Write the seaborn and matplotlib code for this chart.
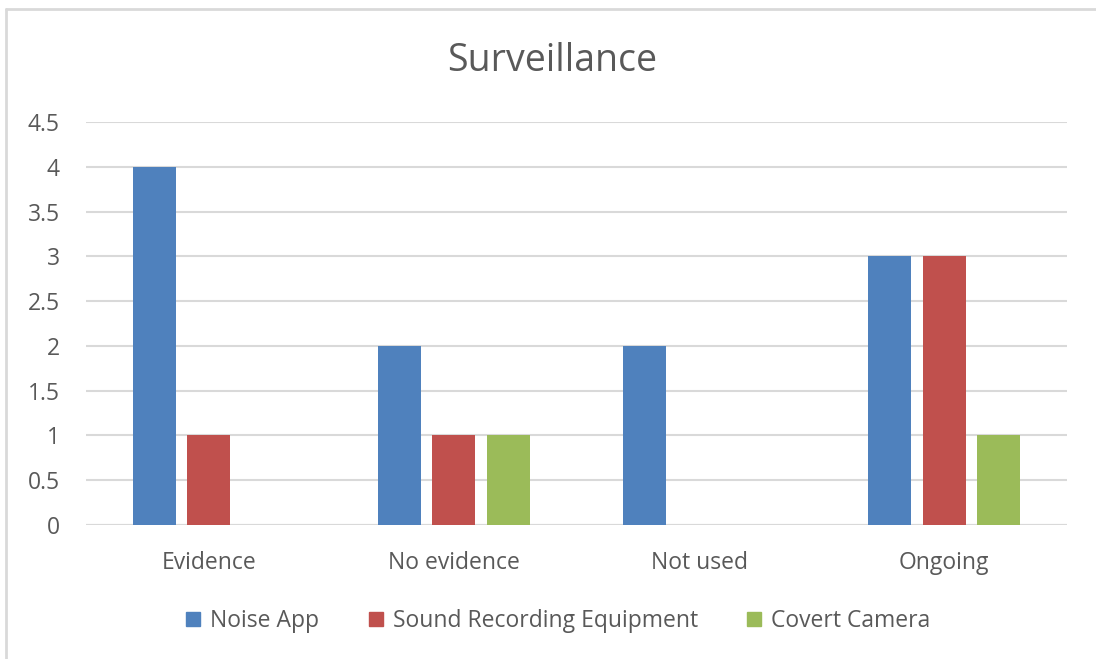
import matplotlib
matplotlib.use("Agg")
import matplotlib.pyplot as plt
from matplotlib.lines import Line2D
import pandas as pd
import seaborn as sns

categories = ["Evidence", "No evidence", "Not used", "Ongoing"]
series_names = ["Noise App", "Sound Recording Equipment", "Covert Camera"]
noise_app = [4, 2, 2, 3]
sound_recording = [1, 1, 0, 3]
covert_camera = [0, 1, 0, 1]
y_ticks = [0, 0.5, 1, 1.5, 2, 2.5, 3, 3.5, 4, 4.5]
y_tick_labels = ["0", "0.5", "1", "1.5", "2", "2.5", "3", "3.5", "4", "4.5"]
title = "Surveillance"

colors = ["#4F81BD", "#C0504D", "#9BBB59"]
text_color = "#595959"
grid_color = "#D9D9D9"

rows = []
for name, vals in zip(series_names, [noise_app, sound_recording, covert_camera]):
    for cat, v in zip(categories, vals):
        rows.append({"Category": cat, "Series": name, "Value": v})
df = pd.DataFrame(rows)

sns.set_theme(style="white")
plt.rcParams["font.family"] = ["Open Sans", "DejaVu Sans"]

fig = plt.figure(figsize=(10.96, 6.59), dpi=100)
ax = fig.add_axes([0.0785, 0.2033, 0.895, 0.6115])

sns.barplot(data=df, x="Category", y="Value", hue="Series", order=categories,
            hue_order=series_names, palette=colors, width=0.667, gap=0.21,
            linewidth=0, saturation=1, ax=ax, legend=False)

ax.set_xlim(-0.5, len(categories) - 0.5)
ax.set_ylim(0, 4.5)
ax.set_yticks(y_ticks)
ax.set_yticklabels(y_tick_labels)
ax.yaxis.grid(True, color=grid_color, linewidth=1.5)
ax.set_axisbelow(True)
for s in ax.spines.values():
    s.set_visible(False)
ax.axhline(0, color=grid_color, linewidth=1.5, zorder=0.5)
ax.set_xlabel("")
ax.set_ylabel("")
ax.tick_params(axis="both", length=0, labelsize=16.5, colors=text_color)
ax.tick_params(axis="x", pad=18.5)
ax.tick_params(axis="y", pad=19)

fig.text(0.504, 0.907, title, ha="center", va="center", fontsize=27, color=text_color)

handles = [Line2D([0], [0], marker="s", linestyle="", markersize=10.5,
                  markerfacecolor=c, markeredgecolor=c) for c in colors]
fig.legend(handles, series_names, loc="center", bbox_to_anchor=(0.509, 0.0577),
           ncol=3, frameon=False, fontsize=16.5, labelcolor=text_color,
           handlelength=0.7, handletextpad=0.4, columnspacing=2.1)

# chart frame (top and left edges)
fig.add_artist(Line2D([0.0055, 1.0], [0.9863, 0.9863], color=grid_color, linewidth=2,
                      transform=fig.transFigure))
fig.add_artist(Line2D([0.0055, 0.0055], [0.0, 0.9863], color=grid_color, linewidth=2,
                      transform=fig.transFigure))

fig.savefig("out.png", dpi=100, facecolor="white")
